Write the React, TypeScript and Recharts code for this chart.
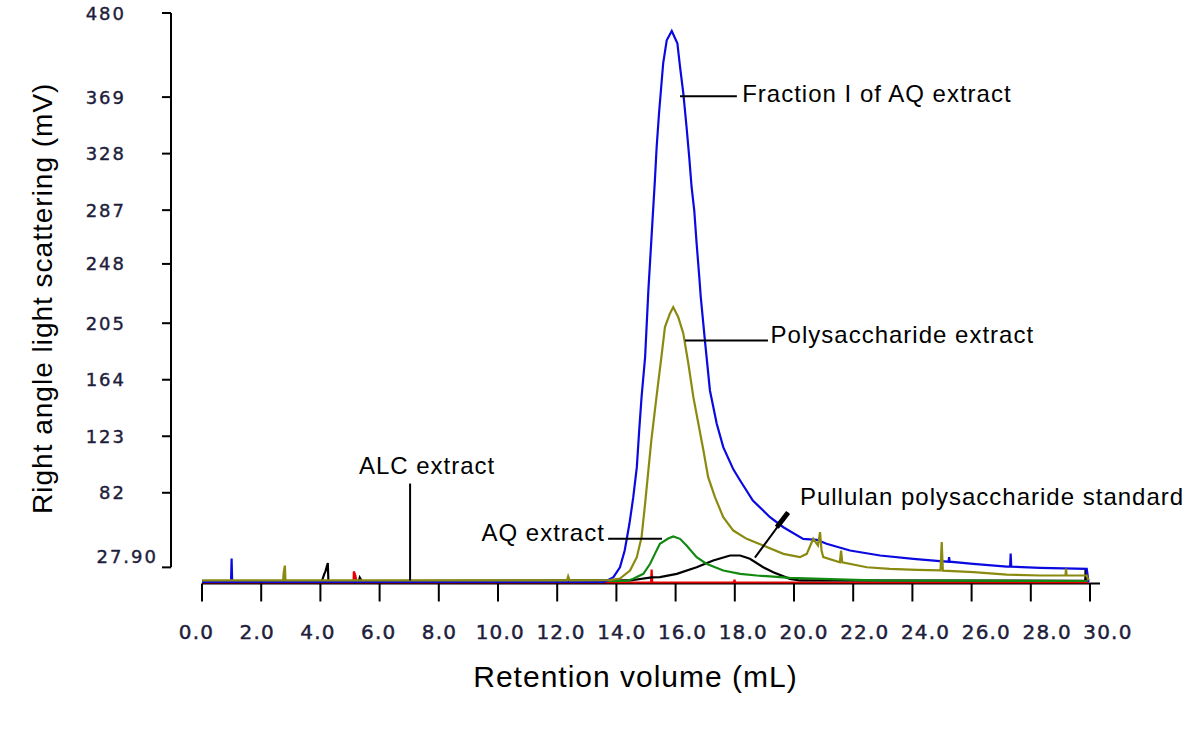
import React from 'react'
import { LineChart, Line, XAxis, YAxis, ReferenceLine, ReferenceDot, Label } from 'recharts'

// x axis: retention volume (mL)
const volumeTicks = [0, 2, 4, 6, 8, 10, 12, 14, 16, 18, 20, 22, 24, 26, 28, 30]

// y axis: tick positions (mV) and the labels printed on the original
const yTickValues = [27.9, 82, 123, 164, 205, 248, 287, 328, 369, 430]
const yTickLabels = ['27.90', '82', '123', '164', '205', '248', '287', '328', '369', '480']

// Fraction I of AQ extract (blue)
const fractionVol = [0, 0.98, 1.0, 1.02, 13.6, 13.9, 14.12, 14.28, 14.44, 14.57, 14.69, 14.77, 14.85, 14.97, 15.08, 15.18, 15.3, 15.36, 15.44, 15.51, 15.58, 15.7, 15.87, 16.06, 16.15, 16.26, 16.37, 16.46, 16.54, 16.63, 16.71, 16.8, 16.85, 16.99, 17.16, 17.39, 17.61, 17.95, 18.18, 18.61, 19.19, 19.64, 20.31, 20.77, 21.1, 21.89, 22.91, 24.03, 24.93, 25.22, 25.24, 25.26, 26.05, 27.19, 27.3, 27.32, 27.34, 28.31, 29.89, 29.95]
const fractionMv = [17.3, 17.3, 34.3, 17.3, 17.3, 20.8, 28.0, 40.1, 59.5, 78.8, 100.6, 127.2, 151.4, 180.4, 228.8, 265.1, 308.6, 332.8, 357.3, 375.4, 393.5, 410.2, 417.0, 408.1, 390.9, 371.8, 347.3, 325.5, 303.8, 286.9, 262.9, 238.5, 224.0, 192.5, 156.2, 132.1, 115.1, 99.0, 90.9, 76.4, 64.3, 57.0, 48.6, 47.9, 45.0, 40.1, 36.5, 34.1, 32.4, 32.0, 35.3, 32.0, 30.5, 28.5, 28.4, 37.9, 28.4, 27.6, 26.8, 17.3]

// Polysaccharide extract (olive)
const polyVol = [0, 2.74, 2.76, 2.8, 2.82, 12.33, 12.37, 12.42, 13.78, 14.12, 14.46, 14.69, 14.85, 14.97, 15.08, 15.18, 15.3, 15.41, 15.52, 15.64, 15.81, 15.92, 16.09, 16.26, 16.43, 16.6, 16.77, 16.94, 17.1, 17.33, 17.61, 17.95, 18.4, 18.96, 19.64, 20.2, 20.43, 20.65, 20.81, 20.88, 20.93, 20.99, 21.55, 21.59, 21.63, 22.46, 23.24, 24.15, 24.95, 24.99, 25.03, 26.06, 27.19, 28.31, 29.17, 29.19, 29.21, 29.89, 29.95]
const polyMv = [18.4, 18.4, 24, 29.2, 18.4, 18.4, 21.4, 18.4, 18.6, 19.8, 25.6, 35.3, 49.8, 74.2, 98.2, 120.0, 141.7, 161.3, 180.4, 202.2, 212.1, 216.7, 209.4, 197.6, 175.8, 151.4, 132.1, 112.7, 93.3, 78.8, 64.3, 54.6, 48.6, 43.8, 37.7, 35.3, 37.7, 48.6, 43.8, 53.4, 40.1, 35.3, 31.6, 40.1, 31.5, 28.0, 26.8, 26.1, 25.7, 46.2, 25.5, 24.4, 22.7, 22.0, 22.0, 27.1, 22.0, 22.0, 18.4]

// AQ extract (green)
const aqVol = [0, 14.35, 14.57, 14.91, 15.14, 15.3, 15.47, 15.75, 15.92, 16.15, 16.37, 16.71, 17.04, 17.61, 18.18, 18.74, 19.19, 19.86, 21.22, 22.67, 29.9]
const aqMv = [18.0, 18.0, 19.6, 23.2, 30.5, 37.7, 45.0, 48.8, 50.3, 48.6, 43.8, 35.3, 30.5, 25.6, 23.2, 22.0, 21.3, 20.3, 19.4, 18.4, 18.0]

// Pullulan polysaccharide standard (black)
const pullVol = [0, 4.05, 4.13, 4.17, 4.25, 4.27, 5.3, 5.33, 5.4, 14.46, 15.19, 15.47, 16.04, 16.71, 17.27, 17.84, 18.18, 18.51, 18.96, 19.3, 19.86, 20.2, 29.84, 29.85, 29.86, 29.9]
const pullMv = [18.0, 18.0, 23, 25, 31, 18.0, 18.0, 20.5, 18.0, 18.4, 20.6, 20.8, 23.2, 28.0, 32.9, 36.5, 36.5, 34.1, 28.0, 24.4, 19.6, 18.4, 18.2, 27.0, 18.2, 18.0]

// ALC extract (red)
const alcVol = [0, 5.12, 5.13, 5.18, 5.22, 15.17, 15.19, 15.21, 17.97, 17.99, 18.01, 29.95]
const alcMv = [16.9, 16.9, 24.9, 22, 16.9, 16.9, 26.3, 16.9, 16.9, 19, 16.9, 16.9]

// annotation texts, where they sit (mL, mV) and their leader lines
const noteNames = ['Fraction I of AQ extract', 'Polysaccharide extract', 'AQ extract', 'ALC extract', 'Pullulan polysaccharide standard']
const noteVol = [18.25, 19.21, 13.61, 5.3, 20.2]
const noteMv = [365.5, 190.6, 46.7, 95.3, 72.8]
const leaderFrom = [[16.15, 369.6], [16.32, 192.5], [13.72, 48.6], [7.03, 88.7], [18.68, 35.0]]
const leaderTo = [[18.07, 369.6], [19.12, 192.5], [15.54, 48.6], [7.03, 18.4], [19.8, 67.7]]

const X_MIN = -1.0473
const X_MAX = 30.3378
const Y_MIN = 16.2
const Y_MAX = 430

const toPoints = (xs: number[], ys: number[]) => xs.map((x, i) => ({ x, y: ys[i] }))

const series = [
  { name: 'ALC extract', data: toPoints(alcVol, alcMv), color: '#e80000' },
  { name: 'Pullulan polysaccharide standard', data: toPoints(pullVol, pullMv), color: '#000000' },
  { name: 'AQ extract', data: toPoints(aqVol, aqMv), color: '#128a12' },
  { name: 'Fraction I of AQ extract', data: toPoints(fractionVol, fractionMv), color: '#0a0ae0' },
  { name: 'Polysaccharide extract', data: toPoints(polyVol, polyMv), color: '#8a8a10' },
]

const tickFont = '"DejaVu Sans", Verdana, sans-serif'
const textFont = '"Liberation Sans", Arial, sans-serif'
const tickColor = '#1e1e3c'

const XTick = (props: any) => {
  const { x, y, payload } = props
  const v = payload.value as number
  return (
    <text x={x - 5.5 + v * 0.78} y={y + 35} textAnchor="middle" fontFamily={tickFont} fontSize={20}
      letterSpacing={1.2} fill={tickColor} stroke={tickColor} strokeWidth={0.45}>
      {v.toFixed(1)}
    </text>
  )
}

const YTick = (props: any) => {
  const { x, y, payload } = props
  const label = yTickLabels[yTickValues.indexOf(payload.value)] ?? ''
  const long = label.length > 3
  return (
    <text x={long ? x - 2 : x - 34} y={long ? y - 4 : y + 6.5} textAnchor="end" fontFamily={tickFont}
      fontSize={18} letterSpacing={2} fill={tickColor} stroke={tickColor} strokeWidth={0.4}>
      {label}
    </text>
  )
}

export default function App() {
  return (
    <div style={{ position: 'absolute', left: 0, top: 0, width: 1200, height: 744, background: '#fff' }}>
      <LineChart width={1200} height={744} margin={{ top: 13, right: 100, bottom: 40.5, left: 20 }}>
        <XAxis
          type="number"
          dataKey="x"
          domain={[X_MIN, X_MAX]}
          ticks={volumeTicks}
          interval={0}
          allowDataOverflow
          axisLine={false}
          tickLine={{ stroke: '#000', strokeWidth: 2 }}
          tickSize={18}
          height={120}
          tick={<XTick />}
        >
          <Label
            content={({ viewBox }: any) => (
              <text x={viewBox.x + viewBox.width / 2} y={viewBox.y + 103} textAnchor="middle"
                fontFamily={textFont} fontSize={30} letterSpacing={1} fill="#000">
                Retention volume (mL)
              </text>
            )}
          />
        </XAxis>
        <YAxis
          type="number"
          dataKey="y"
          domain={[Y_MIN, Y_MAX]}
          ticks={yTickValues}
          interval={0}
          allowDataOverflow
          axisLine={false}
          tickLine={{ stroke: '#000', strokeWidth: 2 }}
          tickSize={9}
          width={151}
          tick={<YTick />}
        >
          <Label
            content={({ viewBox }: any) => {
              const cx = viewBox.x + 22
              const cy = viewBox.y + viewBox.height / 2
              return (
                <text x={cx} y={cy} transform={`rotate(-90 ${cx} ${cy})`} textAnchor="middle"
                  dominantBaseline="central" fontFamily={textFont} fontSize={28} letterSpacing={1} fill="#000">
                  Right angle light scattering (mV)
                </text>
              )
            }}
          />
        </YAxis>

        {/* axis lines: the y line stops at the lowest tick, the x line starts at 0 mL */}
        <ReferenceLine segment={[{ x: X_MIN, y: yTickValues[0] }, { x: X_MIN, y: Y_MAX }]} stroke="#000" strokeWidth={2} />
        <ReferenceLine segment={[{ x: 0, y: Y_MIN }, { x: X_MAX, y: Y_MIN }]} stroke="#000" strokeWidth={2} />

        {series.map(s => (
          <Line
            key={s.name}
            data={s.data}
            dataKey="y"
            type="linear"
            stroke={s.color}
            strokeWidth={2.2}
            dot={false}
            activeDot={false}
            isAnimationActive={false}
            name={s.name}
          />
        ))}

        {noteNames.map((n, i) => (
          <ReferenceLine
            key={'lead' + i}
            segment={[{ x: leaderFrom[i][0], y: leaderFrom[i][1] }, { x: leaderTo[i][0], y: leaderTo[i][1] }]}
            stroke="#000"
            strokeWidth={2}
          />
        ))}
        {/* thick arrow end on the pullulan leader */}
        <ReferenceLine segment={[{ x: 19.42, y: 57.0 }, { x: 19.8, y: 67.7 }]} stroke="#000" strokeWidth={5} />

        {noteNames.map((n, i) => (
          <ReferenceDot
            key={'note' + i}
            x={noteVol[i]}
            y={noteMv[i]}
            r={0}
            shape={(p: any) => (
              <text x={p.cx} y={p.cy} textAnchor={n === 'AQ extract' ? 'end' : 'start'} fontFamily={textFont}
                fontSize={24} letterSpacing={1} fill="#000">
                {n}
              </text>
            )}
          />
        ))}
      </LineChart>
    </div>
  )
}
